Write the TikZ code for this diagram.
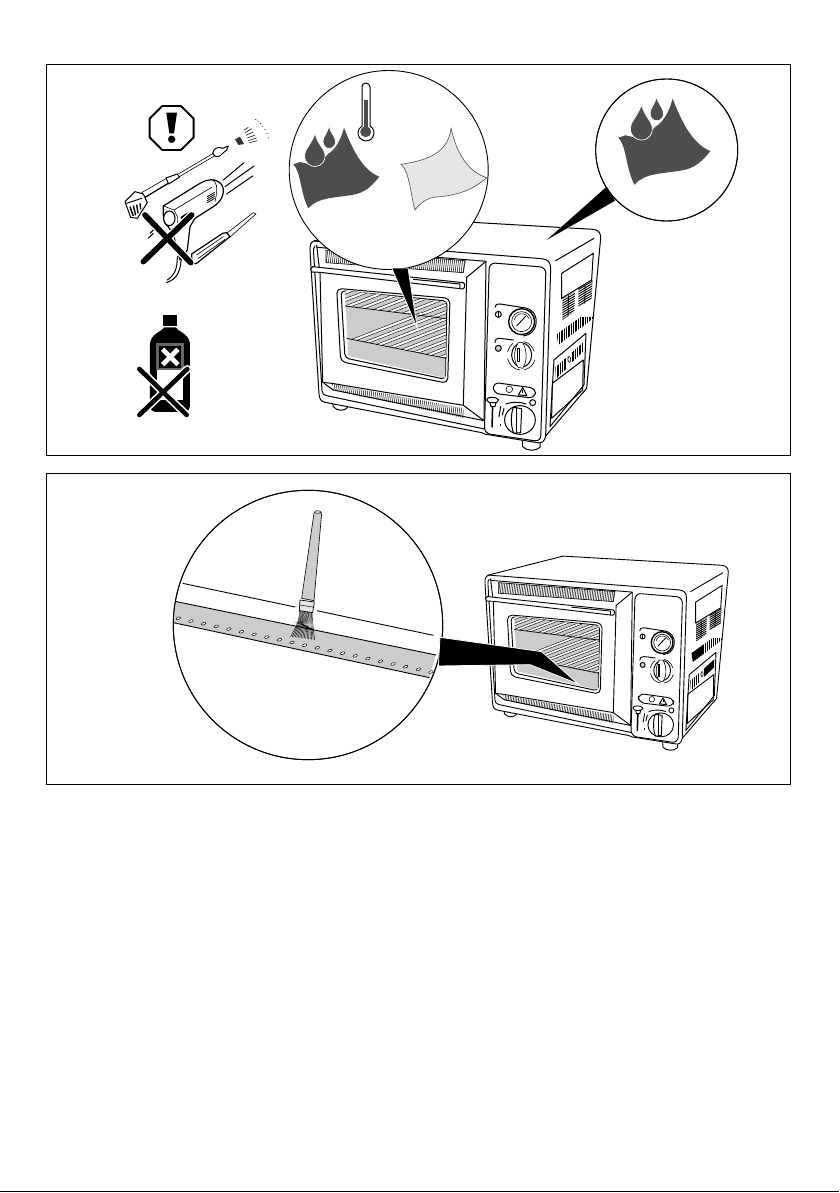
\documentclass[tikz,border=0pt]{standalone}
\definecolor{dk}{HTML}{4D4D4D}
\definecolor{lt}{HTML}{E6E6E6}
\definecolor{gr}{HTML}{CCCCCC}
\tikzset{
  frame/.style={draw=black,line width=0.9pt},
  ol/.style={draw=black,line width=\olw,line join=round,line cap=round},
  tl/.style={draw=black,line width=0.6pt,line join=round,line cap=round},
  lens/.style={draw=black,line width=0.9pt,fill=white},
  wedge/.style={fill=black,draw=white,line width=0.8pt,line join=miter},
  barx/.style={line cap=round,draw=black,line width=5.6pt},
  halo/.style={line cap=round,draw=white,line width=8pt},
}
\newcommand\olw{1pt}
\newcommand\wetcloth{%
  \fill[dk] (293.3,164.3) .. controls (301,172) and (300,192) .. (308.3,208.3)
    .. controls (318,197) and (335,198) .. (352,195)
    .. controls (365,193) and (372,186) .. (379.3,176.7)
    .. controls (362,170) and (352,148) .. (344,127.7)
    .. controls (341,140) and (335,150) .. (328,154)
    -- (316,166) -- (300,162) -- cycle;
  \draw[white,line width=0.7pt,fill=dk] (315,133.5) .. controls (311,145) and (304,150) .. (304.5,156)
    .. controls (305,164) and (311,166.5) .. (315,166.5)
    .. controls (322,166.5) and (326,160) .. (325,154)
    .. controls (324,148) and (318,145) .. (315,133.5) -- cycle;
  \draw[white,line width=0.7pt,fill=dk] (329,126) .. controls (327,134) and (323,137) .. (323,141)
    .. controls (323,146) and (326,148.5) .. (329,148.5)
    .. controls (333,148.5) and (336,145) .. (335.5,141)
    .. controls (335,136) and (330.5,133) .. (329,126) -- cycle;
}
\newcommand\vent[4]{% polygon clip, ticks
  \begin{scope}
    \clip #1;
    \foreach \k in {#2,#3,...,#4} \draw[line width=0.5pt] (\k,-50) -- ++(-90,760);
  \end{scope}}
\newcommand\stripes[3]{% first, step-next, last offsets
  \foreach \b in {#1,#2,...,#3} {
    \draw[white,line width=\strw] (100,\b) -- (470,\b-144);
    \draw[line width=0.4pt] (100,\b-4.5) -- (470,\b-148.5);
    \draw[line width=0.4pt] (100,\b+4.5) -- (470,\b-139.5);
  }}
\newcommand\oven{%
  % feet
  \draw[ol,fill=white] (98,548) -- (100,560) .. controls (110,574) and (135,574) .. (143,562) -- (143,552);
  \draw[ol,fill=white] (667,662) -- (668,680) .. controls (680,694) and (708,694) .. (720,682) -- (721,665);
  \draw[ol,fill=white] (845,510) -- (850,518) -- (857,505);
  % body
  \draw[ol,fill=white] (42,63) -- (310,-5) -- (880,28) .. controls (898,30) and (903,42) .. (902,55)
    -- (860,505) -- (737,648) .. controls (732,668) and (725,670) .. (712,668) -- (570,645)
    .. controls (555,643) and (553,642) .. (545,638) -- (75,547)
    .. controls (62,544) and (58,535) .. (57,522) -- (30,92) .. controls (29,75) and (32,66) .. (42,63) -- cycle;
  \draw[ol] (42,63) -- (725,116) .. controls (745,118) and (752,128) .. (752,145) -- (737,648);
  \draw[ol] (45,78) .. controls (40,82) and (40,90) .. (41,100) -- (66,512) .. controls (67,520) and (70,524) .. (80,527) -- (553,627);
  \draw[ol] (50,76) -- (58,145);
  % door
  \draw[ol] (52,82) -- (558,124) -- (552,602) -- (490,556) -- (95,490) -- (68,487) -- (60,156);
  \draw[ol] (500,172) -- (558,124);
  \draw[ol] (500,172) -- (490,556);
  \draw[ol] (72,490) -- (100,510) -- (552,602);
  % handle
  \draw[ol,fill=white] (38,140) -- (490,188) .. controls (496,190) and (496,205) .. (488,207) -- (60,157) -- (36,156) .. controls (30,152) and (30,142) .. (38,140) -- cycle;
  \draw[ol] (340,178) -- (480,192) -- (480,206);
  % vents
  \vent{(78,90) -- (496,122) -- (490,158) -- (78,128) -- cycle}{70}{76}{620}
  \draw[tl] (78,90) -- (496,122) -- (490,158) -- (78,128) -- cycle;
  \vent{(96,492) -- (490,564) -- (490,594) -- (102,511) -- cycle}{120}{126}{640}
  % window
  \draw[ol,rounded corners=5pt] (110,205) -- (450,235) -- (443,490) -- (122,425) -- cycle;
  \draw[ol,rounded corners=4pt,fill=white] (123,212) -- (441,243) -- (436,478) -- (135,414) -- cycle;
  \fill[gr] (135,212) -- (438,246) -- (436,474) -- (145,408) -- cycle;
  \begin{scope}
    \clip (135,212) -- (438,246) -- (438,296) -- (137,258) -- cycle;
    \stripes{210}{232}{480}
  \end{scope}
  \begin{scope}
    \clip (140,355) -- (350,276) -- (438,296) -- (438,415) -- cycle;
    \stripes{340}{362}{600}
  \end{scope}
  \draw[line width=0.7pt] (135,258) -- (438,296);
  \draw[line width=0.7pt] (140,355) -- (438,415);
  % panel
  \draw[ol,fill=white,rounded corners=6pt] (568,128) -- (738,142) -- (722,665) -- (553,640) -- cycle;
  % gauge
  \draw[ol] (585,262) .. controls (585,254) and (590,252) .. (600,252) -- (665,262) .. controls (700,264) and (712,290) .. (708,312) .. controls (704,335) and (690,345) .. (670,348);
  \draw[line width=1.4pt,fill=white] (665,305) circle [radius=39];
  \draw[tl,fill=white] (665,305) circle [radius=30];
  \draw[line width=0.9pt] (650,318) -- (678,288);
  \draw[line width=0.5pt] (643,300) arc [start angle=190,end angle=340,radius=23];
  \draw[ol,fill=white] (595,283) circle [radius=9];
  \draw[line width=0.9pt] (595,275) -- (595,291);
  % knob 1
  \draw[ol] (585,368) .. controls (585,358) and (590,355) .. (600,355) -- (640,360);
  \draw[ol,fill=gr] (595,385) circle [radius=9];
  \draw[ol,fill=white] (665,405) ellipse [x radius=30,y radius=36];
  \draw[tl,fill=white] (655,368) .. controls (640,390) and (640,425) .. (655,442) -- (668,445) .. controls (682,425) and (682,390) .. (668,368) -- cycle;
  \draw[line width=0.9pt] (651,385) -- (651,425) -- (657,425) -- (657,385) -- cycle;
  \draw[tl] (672,365) arc [start angle=-78,end angle=-20,x radius=42,y radius=46];
  \draw[tl] (705,420) arc [start angle=20,end angle=80,x radius=42,y radius=46];
  \draw[tl] (660,450) arc [start angle=95,end angle=165,x radius=42,y radius=46];
  \draw[tl] (623,395) arc [start angle=195,end angle=235,x radius=42,y radius=46];
  % label
  \draw[ol,rounded corners=6pt] (580,487) -- (708,505) -- (704,535) -- (580,520) -- cycle;
  \draw[tl] (628,508) circle [radius=10];
  \draw[ol,line join=round] (668,503) -- (681,527) -- (655,525) -- cycle;
  \draw[line width=0.7pt] (668,511) -- (668,519);
  % knob 2
  \draw[ol,fill=white] (660,600) ellipse [x radius=46,y radius=43];
  \draw[ol,fill=white] (640,562) -- (665,566) -- (662,638) -- (642,640) .. controls (632,625) and (632,580) .. (640,562) -- cycle;
  \draw[ol] (650,562) -- (650,640);
  \draw[ol,fill=white] (698,548) circle [radius=9];
  \draw[ol] (618,552) .. controls (635,545) and (660,545) .. (678,552);
  \draw[ol] (602,560) -- (597,590);
  \draw[ol] (612,565) -- (607,585);
  \draw[line width=0.8pt] (600,612) -- (600,618);
  % lever
  \draw[ol,fill=white] (560,540) .. controls (558,530) and (590,528) .. (596,540) .. controls (596,552) and (562,552) .. (560,540) -- cycle;
  \draw[ol,fill=white] (570,548) -- (588,548) -- (585,560) -- (573,560) -- cycle;
  \draw[line width=1.5pt] (578,558) -- (576,622);
  % side
  \draw[ol] (767,122) -- (882,55);
  \draw[ol,fill=white] (785,160) -- (880,100) -- (875,180) -- (785,235) -- cycle;
  \begin{scope}
    \clip (787,237) -- (825,215) -- (823,276) -- (787,300) -- cycle;
    \foreach \k in {0,7,...,90} \draw[line width=0.9pt] (785,230+\k) -- (830,204+\k);
    \draw[line width=0.8pt] (806,200) -- (804,300);
  \end{scope}
  \begin{scope}
    \clip (835,207) -- (878,180) -- (875,238) -- (835,262) -- cycle;
    \foreach \k in {0,7,...,90} \draw[line width=0.9pt] (833,203+\k) -- (880,175+\k);
    \draw[line width=0.8pt] (856,180) -- (854,262);
  \end{scope}
  \begin{scope}
    \clip (770,343) -- (878,265) -- (880,295) -- (775,375) -- cycle;
    \foreach \k in {765,772,...,890} \draw[line width=1.5pt] (\k,290) -- (\k,390);
  \end{scope}
  \draw[ol] (762,420) -- (858,340) -- (852,495) -- (750,620) -- cycle;
  \draw[ol] (757,490) -- (850,420) -- (848,510) -- (755,595) -- cycle;
  \begin{scope}
    \clip (766,442) -- (802,410) -- (800,445) -- (768,478) -- cycle;
    \foreach \k in {760,767,...,810} \draw[line width=1.4pt] (\k,400) -- (\k,490);
  \end{scope}
  \begin{scope}
    \clip (815,398) -- (852,365) -- (850,395) -- (815,428) -- cycle;
    \foreach \k in {812,819,...,860} \draw[line width=1.4pt] (\k,360) -- (\k,430);
  \end{scope}
  \draw[tl] (808,418) ellipse [x radius=4,y radius=9];
}
\begin{document}
\begin{tikzpicture}[x=1pt,y=-1pt]
\useasboundingbox (0,0) rectangle (839,1193);
\fill[white] (0,0) rectangle (839,1193);
% frames and footer
\draw[frame] (46.5,64.5) rectangle (790.5,455.5);
\draw[frame] (46.5,473.5) rectangle (790.5,784.5);
\draw[black,line width=1.2pt] (0,1191.5) -- (839,1191.5);

% ---------- oven 1
\newcommand\strw{2.4pt}
\renewcommand\olw{1pt}
\begin{scope}[shift={(300pt,-220pt)},x=0.3333pt,y=-0.3333pt]
  \oven
\end{scope}
% wedge oven->circle 2
\draw[wedge] (546.7,240) -- (606.7,186.7) -- (615,200.7) -- cycle;
% circle 1
\draw[lens] (388.7,170) circle [radius=99.5];
\draw[wedge] (391.7,268) -- (408,268) -- (417.3,328.3) -- cycle;
% circle 2
\draw[lens] (666.7,150) circle [radius=71];
\draw[wedge,draw=none] (546.7,240) -- (606.7,186.7) -- (615,200.7) -- cycle;
\draw[line width=0.9pt] (666.7,150) circle [radius=71];
% wet cloths
\wetcloth
\begin{scope}[shift={(304.5pt,38.1pt)},x=1.07pt,y=-1.07pt]
  \wetcloth
\end{scope}
% dry cloth
\draw[fill=lt,draw=dk,line width=0.6pt] (401,164.3) .. controls (423,161) and (448,155) .. (451,128.3)
  .. controls (455,145) and (463,170) .. (486.7,177.7)
  .. controls (470,193) and (450,196) .. (436,197)
  .. controls (427,198) and (420,203) .. (415,210)
  .. controls (411,198) and (410,172) .. (401,164.3) -- cycle;
% thermometer
\draw[line width=1pt,fill=white] (362,126) -- (362,87) arc [start angle=180,end angle=360,radius=4] -- (370,126)
  arc [start angle=-60,end angle=240,radius=8] -- cycle;
\fill[dk] (364,100) -- (368,100) -- (368,130) -- (364,130) -- cycle;
\fill[dk] (365.7,131.7) circle [radius=5.5];

% ---------- warning + tools (zoom coordinates)
\begin{scope}[shift={(100pt,-70pt)},x=0.3333pt,y=-0.3333pt]
  \draw[line width=1.9pt,line join=round] (187,108) -- (243,108) -- (281,146) -- (281,202) -- (243,240) -- (187,240) -- (149,202) -- (149,146) -- cycle;
  \fill[black] (199,128) -- (231,128) -- (222,190) -- (208,190) -- cycle;
  \fill[black] (215,208) circle [radius=11];
  % spray
  \fill[black!80] (405,208) -- (420,200) -- (432,222) -- (415,225) -- cycle;
  \begin{scope}[line width=0.55pt]
    \foreach \a/\b/\c/\d in {432/180/445/172,436/188/455/176,438/196/460/186,442/204/465/195,445/212/470/204,448/218/472/212} \draw (\a,\b) -- (\c,\d);
    \foreach \a/\b in {466/148,473/153,480/160,487/168,494/178,500/190,504/203} \draw (\a,\b) -- ++(3,1);
  \end{scope}
  % lance
  \draw[ol,fill=white] (338,250) .. controls (340,235) and (355,228) .. (368,235) -- (385,228) -- (380,240) -- (368,250) .. controls (360,262) and (345,265) .. (338,250) -- cycle;
  \draw[tl] (340,250) -- (235,312);
  \draw[tl] (343,258) -- (238,320);
  \draw[ol,fill=white] (198,324) -- (232,312) -- (238,322) -- (206,342) -- cycle;
  \draw[tl] (198,326) -- (125,368);
  \draw[ol,line width=1.3pt] (205,340) -- (130,385);
  \draw[ol,fill=white] (75,395) -- (105,365) -- (130,372) -- (142,398) -- (112,445) -- (92,442) -- cycle;
  \draw[ol] (80,400) -- (125,385);
  \draw[line width=1.4pt] (90,410) -- (100,438);
  \draw[line width=1.4pt] (100,407) -- (107,436);
  \draw[line width=1.4pt] (110,404) -- (114,430);
  \draw[line width=1.4pt] (120,400) -- (122,418);
  \draw[ol] (150,490) -- (165,475);
  \draw[ol] (145,505) -- (160,490);
  % jets
  \draw[ol] (370,330) -- (432,278);
  \draw[ol] (375,350) -- (462,288);
  \draw[ol] (380,372) -- (458,318);
  % cables
  \draw[ol] (244,560) .. controls (242,600) and (235,625) .. (200,638);
  \draw[ol] (232,560) .. controls (232,595) and (225,615) .. (202,630);
  % gun
  \draw[ol,fill=white,line width=1.2pt] (190,408) -- (300,340) .. controls (330,322) and (358,328) .. (368,350)
    .. controls (375,368) and (365,395) .. (340,410) -- (285,445) -- (270,470) -- (262,540) -- (240,570) -- (222,500)
    -- (205,470) .. controls (192,465) and (188,440) .. (190,408) -- cycle;
  \draw[tl] (190,408) -- (222,420) -- (232,440) -- (232,470);
  \draw[tl] (222,420) -- (335,352);
  \draw[tl] (335,328) .. controls (350,335) and (355,350) .. (345,395);
  \draw[line width=1.1pt,fill=white] (208,445) ellipse [x radius=17,y radius=22];
  \foreach \k in {0,6,12,18} \draw[line width=0.8pt] (322,380+\k) -- (344,367+\k);
  \fill[black] (243,440) -- (262,428) -- (262,435) -- (243,447) -- cycle;
  % screwdriver
  \draw[tl,fill=white] (380,490) -- (460,428) -- (468,432) -- (388,503) -- cycle;
  \draw[line width=1.2pt,fill=white] (275,552) -- (368,490) -- (380,488) -- (390,500) -- (300,572) .. controls (290,584) and (280,585) .. (275,570) -- cycle;
  \draw[tl] (290,555) -- (370,500);
  \draw[tl] (295,565) -- (375,508);
  % X
  \draw[halo] (130,575) -- (275,435);
  \draw[halo] (135,435) -- (272,578);
  \draw[barx] (130,575) -- (275,435);
  \draw[barx] (135,435) -- (272,578);
  % bottle
  \fill[black] (189,735) rectangle (232,768);
  \fill[black] (192,772) -- (228,772) .. controls (232,785) and (270,790) .. (270,825) -- (270,1005) .. controls (270,1020) and (262,1026) .. (250,1026)
     -- (170,1026) .. controls (158,1026) and (150,1020) .. (150,1005) -- (150,825) .. controls (150,790) and (188,785) .. (192,772) -- cycle;
  \fill[white] (170,820) rectangle (250,990);
  \fill[black!60] (168,818) rectangle (252,900);
  \fill[black] (176,828) rectangle (244,893);
  \draw[white,line width=4.7pt] (188,838) -- (234,884);
  \draw[white,line width=4.7pt] (188,884) -- (234,838);
  \draw[line cap=round,white,line width=7.8pt] (118,897) -- (260,1035);
  \draw[line cap=round,white,line width=7.8pt] (262,897) -- (118,1035);
  \draw[line cap=round,black,line width=4.6pt] (118,897) -- (260,1035);
  \draw[line cap=round,black,line width=4.6pt] (262,897) -- (118,1035);
\end{scope}

% ---------- lower panel
\renewcommand\strw{2pt}
\renewcommand\olw{0.9pt}
\begin{scope}[shift={(476.6pt,-557.5pt)},x=0.279pt,y=-0.279pt]
  \oven
\end{scope}
\draw[lens] (308,625) circle [radius=134.7];
\begin{scope}[shift={(170pt,-490pt)},x=0.3333pt,y=-0.3333pt]
  \begin{scope}
    \clip (414,405) circle [radius=402];
    \fill[gr] (10,333) -- (798,495) -- (778,563) -- (10,398) -- cycle;
    \draw[line width=0.9pt] (10,333) -- (798,495);
    \draw[line width=0.9pt] (10,398) -- (778,563);
    \foreach \i in {0,...,20}
      \draw[line width=0.5pt,fill=white] (25+\i*37.9,385+\i*8.05) ellipse [x radius=7,y radius=3.5,rotate=20];
  \end{scope}
  \draw[line width=0.9pt] (38,280) -- (380,352);
  \draw[line width=0.9pt] (440,362) -- (790,436);
  % brush
  \fill[white] (376,350) rectangle (440,372);
  \draw[line width=0.6pt,fill=gr] (432,70) -- (395,325) -- (432,332) -- (455,70) arc [start angle=0,end angle=-180,x radius=11.5,y radius=5] -- cycle;
  \draw[line width=0.5pt,fill=gr!50] (443,66) ellipse [x radius=9,y radius=4];
  \foreach \i in {0,...,16} \draw[line width=0.42pt] (389+\i*2.4,362) .. controls (386+\i*2.6,395) .. (362+\i*4.5,440+\i*0.6);
  \foreach \i in {0,...,3} \draw[line width=0.42pt] (376+\i*7,398-\i*5) .. controls (395,403) .. (420+\i*3,418);
  \draw[line width=0.7pt,fill=gr!50] (390,330) -- (433,336) -- (428,368) -- (388,362) -- cycle;
  \draw[line width=0.5pt] (390,345) -- (432,352);
\end{scope}
\draw[line width=0.9pt] (308,625) circle [radius=134.7];
% wedge lower
\begin{scope}[shift={(430pt,-550pt)},x=0.3333pt,y=-0.3333pt]
  \draw[wedge] (30,262) -- (335,305) -- (445,402) -- (300,344) -- (25,348) -- cycle;
\end{scope}
\end{tikzpicture}
\end{document}
